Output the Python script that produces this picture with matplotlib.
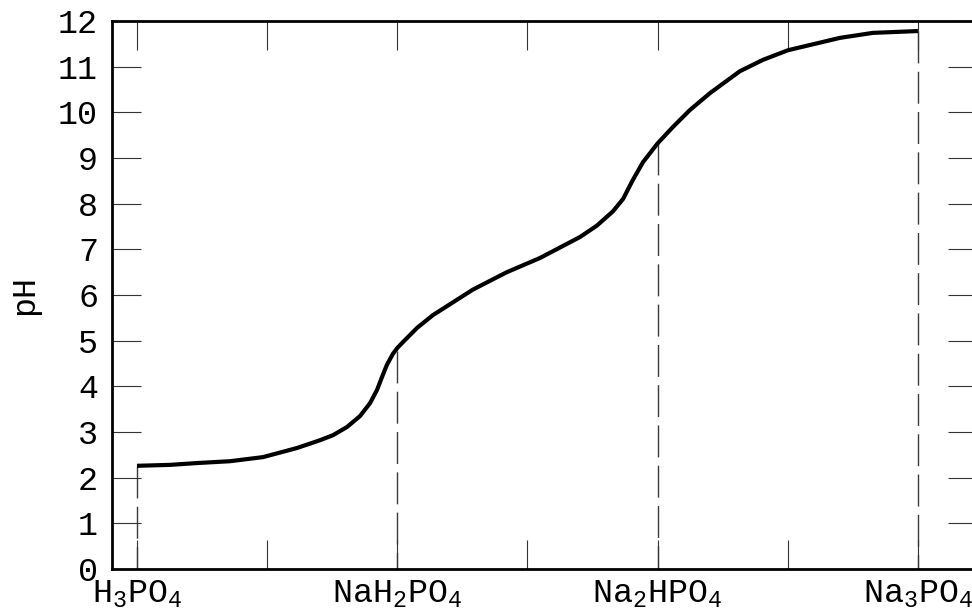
import matplotlib
matplotlib.use("Agg")
import matplotlib.pyplot as plt
from matplotlib.ticker import MultipleLocator

# Titration curve of phosphoric acid
base_added = [0.0, 0.127, 0.230, 0.357, 0.484, 0.615, 0.703, 0.753, 0.807, 0.857,
              0.895, 0.922, 0.941, 0.960, 0.983, 1.0, 1.022, 1.076, 1.137,
              1.291, 1.421, 1.548, 1.702, 1.767, 1.828, 1.867, 1.905, 1.944, 2.0,
              2.059, 2.124, 2.201, 2.316, 2.405, 2.501, 2.70, 2.827, 3.0]
ph_values  = [2.26, 2.28, 2.32, 2.36, 2.45, 2.65, 2.82, 2.93, 3.11, 3.35,
              3.63, 3.92, 4.20, 4.47, 4.71, 4.84, 4.97, 5.28, 5.56,
              6.12, 6.50, 6.81, 7.27, 7.52, 7.83, 8.10, 8.52, 8.91, 9.32,
              9.68, 10.05, 10.42, 10.90, 11.15, 11.36, 11.63, 11.74, 11.78]

# Equivalence points (x position, pH at the curve, label)
eq_points = [0, 1, 2, 3]
eq_ph     = [2.26, 4.78, 9.32, 11.78]
eq_labels = [r'$\mathrm{H_3PO_4}$', r'$\mathrm{NaH_2PO_4}$',
             r'$\mathrm{Na_2HPO_4}$', r'$\mathrm{Na_3PO_4}$']
minor_ticks = [0.5, 1.5, 2.5]

plt.rcParams['font.family'] = ['Liberation Mono', 'DejaVu Sans Mono']
plt.rcParams['mathtext.fontset'] = 'custom'
plt.rcParams['mathtext.rm'] = 'Liberation Mono'
plt.rcParams['mathtext.it'] = 'Liberation Mono:italic'
plt.rcParams['mathtext.bf'] = 'Liberation Mono:bold'

fig = plt.figure(figsize=(9.72, 6.14), dpi=100)
# axes runs a little past the right edge, like the original
ax = fig.add_axes([112/972., 45/614., 865/972., 548/614.])

# dashed guide lines from the curve down to the x axis
for x, y in zip(eq_points, eq_ph):
    ax.plot([x, x], [y, 0], color='#3a3a3a', lw=1.0, dashes=(23, 6), zorder=1)

# the curve
ax.plot(base_added, ph_values, color='black', lw=3.0, solid_capstyle='butt',
        solid_joinstyle='round', zorder=3)

ax.set_xlim(-0.096, 3.227)
ax.set_ylim(0, 12)

ax.set_xticks(eq_points)
ax.set_xticklabels(eq_labels)
ax.set_xticks(minor_ticks, minor=True)
ax.yaxis.set_major_locator(MultipleLocator(1))

ax.tick_params(which='both', direction='in', length=21, width=0.8, color='#333333',
               top=True, right=True, labelsize=24, pad=10)
ax.tick_params(axis='x', which='major', pad=7)

for s in ax.spines.values():
    s.set_linewidth(2.0)

ax.set_ylabel('pH', fontsize=24, labelpad=13)

fig.savefig('out.png', dpi=100)
plt.close()
